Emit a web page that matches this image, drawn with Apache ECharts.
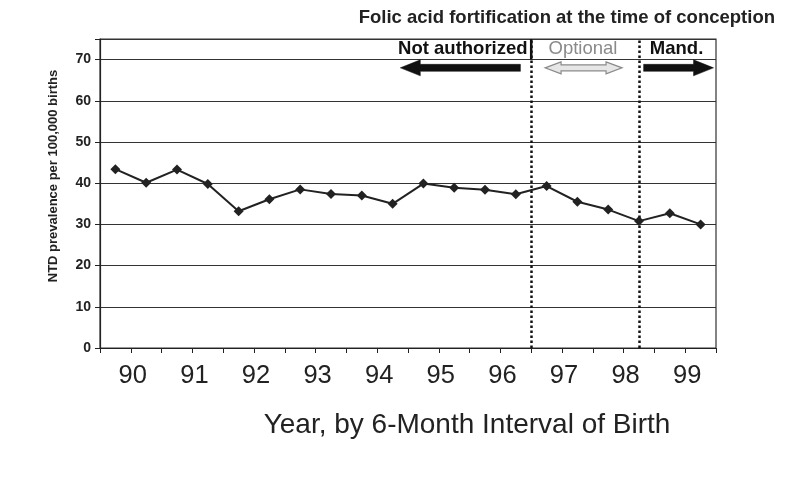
<!DOCTYPE html>
<html>
<head>
<meta charset="utf-8">
<script src="https://cdn.jsdelivr.net/npm/echarts@6/dist/echarts.min.js"></script>
<style>
html,body{margin:0;padding:0;background:#fff;}
#chart{width:800px;height:497px;}
</style>
</head>
<body>
<div id="chart"></div>
<script>
// ---- data ----
var yearLabels = ['90','91','92','93','94','95','96','97','98','99'];
var halfYearIndex = [0,1,2,3,4,5,6,7,8,9,10,11,12,13,14,15,16,17,18,19];
var prevalence = [43.4, 40.1, 43.3, 39.8, 33.2, 36.1, 38.5, 37.4, 37.0, 35.0,
                  39.9, 38.9, 38.4, 37.3, 39.3, 35.5, 33.6, 30.8, 32.7, 30.0];
var yTicks = [0,10,20,30,40,50,60,70];
var periodNames = ['Not authorized', 'Optional', 'Mand.'];
var periodBoundaries = [14, 17.5];

var FONT = '"Liberation Sans", Arial, sans-serif';

// annotation layout in data units
var arrows = [
  {x1: 9.75, x2: 13.65, dir: 'left'},
  {x1: 14.45, x2: 16.95, dir: 'both'},
  {x1: 17.65, x2: 19.92, dir: 'right'}
];
var labelPos = [
  {x: 11.78, color: '#111', weight: 'bold'},
  {x: 15.68, color: '#8a8a8a', weight: 'normal'},
  {x: 18.72, color: '#111', weight: 'bold'}
];
var arrowY = 68, labelY = 72.7;

var chart = echarts.init(document.getElementById('chart'), null, {renderer: 'canvas'});

var points = halfYearIndex.map(function (i, k) { return [i + 0.5, prevalence[k]]; });

function arrowPoly(a, b, y, dir) {
  var bh = 3.5, hh = 8, hl = 20;
  if (dir === 'left') {
    return [[a, y], [a + hl, y - hh], [a + hl, y - bh], [b, y - bh], [b, y + bh], [a + hl, y + bh], [a + hl, y + hh]];
  } else if (dir === 'right') {
    return [[b, y], [b - hl, y - hh], [b - hl, y - bh], [a, y - bh], [a, y + bh], [b - hl, y + bh], [b - hl, y + hh]];
  }
  var h2 = 16; bh = 3; hh = 6;
  return [[a, y], [a + h2, y - hh], [a + h2, y - bh], [b - h2, y - bh], [b - h2, y - hh], [b, y],
          [b - h2, y + hh], [b - h2, y + bh], [a + h2, y + bh], [a + h2, y + hh]];
}

var annotData = arrows.map(function (a, i) { return [a.x1, a.x2, arrowY, i]; });

var option = {
  backgroundColor: '#fff',
  animation: false,
  title: {
    text: 'Folic acid fortification at the time of conception',
    right: 20, top: 3,
    textStyle: {fontFamily: FONT, fontSize: 18.5, fontWeight: 'bold', color: '#222'}
  },
  grid: {left: 100, right: 84, top: 39, bottom: 149, show: true, borderColor: '#333', borderWidth: 1.2},
  xAxis: {
    type: 'value', min: 0, max: 20, interval: 1,
    axisLine: {onZero: false, lineStyle: {color: '#222', width: 1.2}},
    axisTick: {show: true, length: 5, lineStyle: {color: '#222'}},
    splitLine: {show: false},
    axisLabel: {
      margin: 15, fontFamily: FONT, fontSize: 25.5, color: '#222', padding: [0, 0, 0, 4],
      formatter: function (v) { return (v % 2 === 1) ? yearLabels[(v - 1) / 2] : ''; }
    }
  },
  yAxis: {
    type: 'value', min: 0, max: 75, interval: 10,
    axisLine: {show: true, lineStyle: {color: '#222', width: 1.2}},
    axisTick: {show: true, length: 5, lineStyle: {color: '#222'}},
    splitLine: {show: true, lineStyle: {color: '#333', width: 1.2}},
    axisLabel: {
      margin: 9, fontFamily: FONT, fontSize: 14, fontWeight: 'bold', color: '#222',
      formatter: function (v) { return yTicks.indexOf(v) >= 0 ? String(v) : ''; }
    }
  },
  graphic: [
    {type: 'text', x: 53, y: 176, rotation: Math.PI / 2,
     style: {text: 'NTD prevalence per 100,000 births', font: 'bold 13px ' + FONT, fill: '#222', align: 'center', verticalAlign: 'middle'}},
    {type: 'text', x: 467, y: 425,
     style: {text: 'Year, by 6-Month Interval of Birth', font: '28px ' + FONT, fill: '#222', align: 'center', verticalAlign: 'middle'}}
  ],
  series: [
    {
      type: 'line', data: points,
      symbol: 'diamond', symbolSize: 10,
      lineStyle: {color: '#222', width: 2},
      itemStyle: {color: '#222'},
      z: 5,
      markLine: {
        silent: true, symbol: 'none', label: {show: false},
        lineStyle: {color: '#111', type: [2.5, 2.5], width: 2.5},
        data: periodBoundaries.map(function (b) { return {xAxis: b}; })
      }
    },
    {
      type: 'custom', silent: true, clip: false, z: 6,
      data: annotData,
      encode: {x: [0, 1], y: 2},
      renderItem: function (params, api) {
        var i = api.value(3);
        var p1 = api.coord([api.value(0), api.value(2)]);
        var p2 = api.coord([api.value(1), api.value(2)]);
        var dir = arrows[i].dir;
        var lp = api.coord([labelPos[i].x, labelY]);
        var children = [
          {type: 'polygon', shape: {points: arrowPoly(p1[0], p2[0], p1[1], dir)},
           style: dir === 'both' ? {fill: '#e6e6e6', stroke: '#8a8a8a', lineWidth: 1.2} : {fill: '#111', stroke: '#111', lineWidth: 0.5}},
          {type: 'text', style: {text: periodNames[i], x: lp[0], y: lp[1], align: 'center', verticalAlign: 'middle',
            font: labelPos[i].weight + ' 18.5px ' + FONT, fill: labelPos[i].color}}
        ];
        if (i === 0) {
          var t = api.coord([periodBoundaries[0], 75]);
          var bt = api.coord([periodBoundaries[0], 70]);
          children.push({type: 'line', shape: {x1: t[0], y1: t[1], x2: bt[0], y2: bt[1]}, style: {stroke: '#111', lineWidth: 2.5}});
        }
        return {type: 'group', children: children};
      }
    }
  ]
};
chart.setOption(option);
</script>
</body>
</html>
